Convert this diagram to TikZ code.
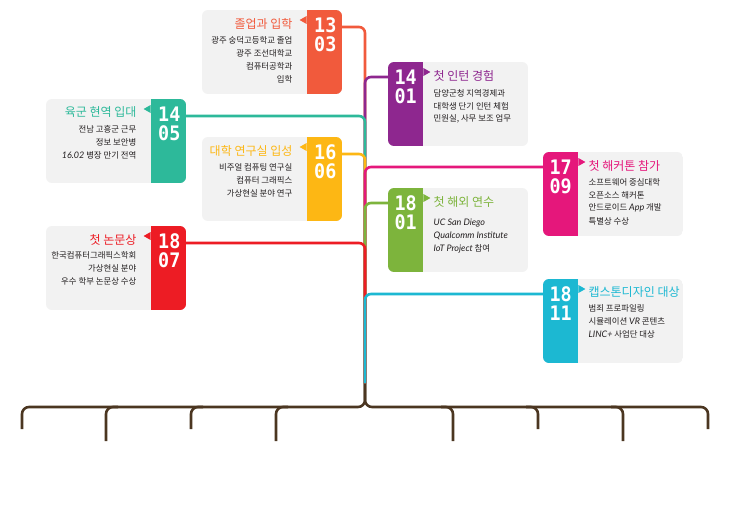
\documentclass[tikz,border=0pt]{standalone}
\usepackage{fontspec}
\newfontfamily\kr{Noto Sans CJK KR}
\newfontfamily\lat{Lato}
\newfontfamily\dig{DejaVu Sans Mono}
\usetikzlibrary{calc}
\definecolor{cOra}{HTML}{F15A3C}
\definecolor{cPur}{HTML}{8E278F}
\definecolor{cTeal}{HTML}{2DB99A}
\definecolor{cYel}{HTML}{FDB714}
\definecolor{cPink}{HTML}{E5177B}
\definecolor{cGrn}{HTML}{7DB43C}
\definecolor{cRed}{HTML}{ED1C24}
\definecolor{cCyan}{HTML}{1CB8D2}
\definecolor{cBrown}{HTML}{4B3621}
\definecolor{cardgray}{HTML}{F2F2F2}
\definecolor{bodytext}{HTML}{231F20}
\tikzset{
  panel/.style={fill=cardgray, minimum width=140pt, minimum height=84pt, inner sep=0, draw=none},
  tabbox/.style={minimum width=35pt, minimum height=84pt, inner sep=0, draw=none},
  link/.style={line width=2.6pt, rounded corners=6pt},
  root/.style={line width=2.6pt, rounded corners=7pt, draw=cBrown},
  ttl/.style={font=\kr\fontsize{12}{13}\selectfont, inner sep=0},
  bdy/.style={font=\kr\fontsize{8.4}{10}\selectfont, inner sep=0, text=bodytext},
  digs/.style={font=\dig\bfseries\fontsize{20}{20}\selectfont, text=white, inner sep=0, xscale=0.92},
}
\newcommand\itl[1]{{\lat\itshape\fontsize{9}{10}\selectfont #1}}
% left card: tab on the right
\newcommand\leftcard[7]{% name, x, y, colour, digits top, digits bottom, title
  \begin{scope}
    \clip[rounded corners=6pt] (#2,#3) rectangle ++(140,84);
    \node[panel, anchor=north west] (#1card) at (#2,#3) {};
    \node[tabbox, fill=#4, anchor=north east] (#1tab) at (#2+140,#3) {};
  \end{scope}
  \fill[#4] ($(#1tab.north west)+(0,6)$) -- ++(-7,4) -- ++(7,4) -- cycle;
  \node[digs] (#1d1) at ($(#1tab.north)+(1,15)$) {#5};
  \node[digs] (#1d2) at ($(#1tab.north)+(1,34)$) {#6};
  \node[ttl, text=#4, anchor=east] (#1title) at ($(#1tab.north west)+(-14,13.5)$) {#7};
  \coordinate (#1port) at ($(#1tab.north east)+(0,17)$);
}
% right card: tab on the left
\newcommand\rightcard[7]{%
  \begin{scope}
    \clip[rounded corners=6pt] (#2,#3) rectangle ++(140,84);
    \node[panel, anchor=north west] (#1card) at (#2,#3) {};
    \node[tabbox, fill=#4, anchor=north west] (#1tab) at (#2,#3) {};
  \end{scope}
  \fill[#4] ($(#1tab.north east)+(0,6)$) -- ++(7,4) -- ++(-7,4) -- cycle;
  \node[digs] (#1d1) at ($(#1tab.north)+(0,15)$) {#5};
  \node[digs] (#1d2) at ($(#1tab.north)+(0,34)$) {#6};
  \node[ttl, text=#4, anchor=west] (#1title) at ($(#1tab.north east)+(10,13.5)$) {#7};
  \coordinate (#1port) at ($(#1tab.north west)+(0,15)$);
}
\newcommand\Lline[3]{\node[bdy, anchor=east] at ($(#1tab.north west)+(-14,#2)$) {#3};}
\newcommand\Rline[3]{\node[bdy, anchor=west] at ($(#1tab.north east)+(10,#2)$) {#3};}
\begin{document}
\begin{tikzpicture}[x=1pt, y=-1pt]
\useasboundingbox (0,0) rectangle (730,511);
\fill[white] (0,0) rectangle (730,511);

% cards
\leftcard{A}{202}{10}{cOra}{13}{03}{졸업과 입학}
\Lline{A}{30}{광주 숭덕고등학교 졸업}
\Lline{A}{43}{광주 조선대학교}
\Lline{A}{56}{컴퓨터공학과}
\Lline{A}{69}{입학}

\rightcard{B}{388}{62}{cPur}{14}{01}{첫 인턴 경험}
\Rline{B}{31}{담양군청 지역경제과}
\Rline{B}{44}{대학생 단기 인턴 체험}
\Rline{B}{57}{민원실, 사무 보조 업무}

\leftcard{C}{46}{99}{cTeal}{14}{05}{육군 현역 입대}
\Lline{C}{30}{전남 고흥군 근무}
\Lline{C}{43}{정보 보안병}
\Lline{C}{56}{\itl{16.02} 병장 만기 전역}

\leftcard{D}{202}{137}{cYel}{16}{06}{대학 연구실 입성}
\Lline{D}{30}{비주얼 컴퓨팅 연구실}
\Lline{D}{43}{컴퓨터 그래픽스}
\Lline{D}{56}{가상현실 분야 연구}

\rightcard{E}{543}{152}{cPink}{17}{09}{첫 해커톤 참가}
\Rline{E}{30}{소프트웨어 중심대학}
\Rline{E}{43}{오픈소스 해커톤}
\Rline{E}{56}{안드로이드 \itl{App} 개발}
\Rline{E}{69}{특별상 수상}

\rightcard{F}{388}{188}{cGrn}{18}{01}{첫 해외 연수}
\Rline{F}{35}{\itl{UC San Diego}}
\Rline{F}{48}{\itl{Qualcomm Institute}}
\Rline{F}{61}{\itl{IoT Project} 참여}

\leftcard{G}{46}{226}{cRed}{18}{07}{첫 논문상}
\Lline{G}{29}{한국컴퓨터그래픽스학회}
\Lline{G}{42}{가상현실 분야}
\Lline{G}{55}{우수 학부 논문상 수상}

\rightcard{H}{543}{279}{cCyan}{18}{11}{캡스톤디자인 대상}
\Rline{H}{29}{범죄 프로파일링}
\Rline{H}{42}{시뮬레이션 \itl{VR} 콘텐츠}
\Rline{H}{55}{\itl{LINC+} 사업단 대상}

% trunk and root
\coordinate (tend) at (365,383);
\coordinate (hlL) at (22,407);
\coordinate (hlR) at (708,407);
\coordinate (d1) at (22,429);
\coordinate (d2) at (106,441);
\coordinate (d3) at (191,429);
\coordinate (d4) at (276,441);
\coordinate (d5) at (453,441);
\coordinate (d6) at (538,429);
\coordinate (d7) at (623,441);
\coordinate (d8) at (708,429);

\draw[root] (tend) |- (hlL) -- (d1);
\draw[root] (tend) |- (hlR) -- (d8);
\draw[root] ($(d2|-hlL)+(12,0)$) -| (d2);
\draw[root] ($(d3|-hlL)+(12,0)$) -| (d3);
\draw[root] ($(d4|-hlL)+(12,0)$) -| (d4);
\draw[root] ($(d5|-hlR)+(-12,0)$) -| (d5);
\draw[root] ($(d6|-hlR)+(-12,0)$) -| (d6);
\draw[root] ($(d7|-hlR)+(-12,0)$) -| (d7);

% branches, top to bottom
\draw[link, cOra] (Aport) -| (tend);
\draw[link, cPur] (Bport) -| (tend);
\draw[link, cTeal] (Cport) -| (tend);
\draw[link, cYel] (Dport) -| (tend);
\draw[link, cPink] (Eport) -| (tend);
\draw[link, cGrn] (Fport) -| (tend);
\draw[link, cRed] (Gport) -| (tend);
\draw[link, cCyan] (Hport) -| (tend);
\end{tikzpicture}
\end{document}
